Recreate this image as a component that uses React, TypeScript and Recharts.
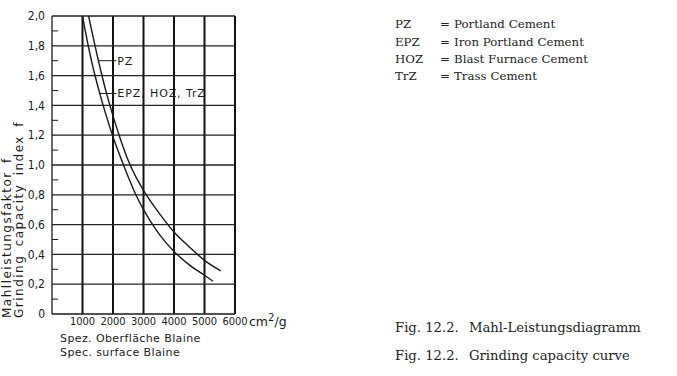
import { Line, LineChart, ReferenceLine, XAxis, YAxis } from "recharts";

// Blaine fineness (cm²/g) vs grinding capacity index f
const pzBlaine = [1200, 1500, 1750, 2000, 2250, 2500, 2750, 3000, 3500, 4000, 4500, 5000, 5530];
const pzIndex = [2.0, 1.72, 1.51, 1.33, 1.17, 1.03, 0.92, 0.83, 0.68, 0.55, 0.45, 0.36, 0.29];

const epzBlaine = [1000, 1250, 1500, 1750, 2000, 2250, 2500, 2750, 3000, 3500, 4000, 4500, 5000, 5280];
const epzIndex = [2.0, 1.74, 1.53, 1.35, 1.19, 1.05, 0.92, 0.8, 0.7, 0.54, 0.42, 0.33, 0.26, 0.22];

const xTicks = [1000, 2000, 3000, 4000, 5000, 6000];
const yTicks = [0, 0.2, 0.4, 0.6, 0.8, 1.0, 1.2, 1.4, 1.6, 1.8, 2.0];
const yMinorTicks = [0.1, 0.3, 0.5, 0.7, 0.9, 1.1, 1.3, 1.5, 1.7, 1.9];

const legendCodes = ["PZ", "EPZ", "HOZ", "TrZ"];
const legendNames = ["Portland Cement", "Iron Portland Cement", "Blast Furnace Cement", "Trass Cement"];

const captionLines = ["Mahl-Leistungsdiagramm", "Grinding capacity curve"];

const pzData = pzBlaine.map((x, i) => ({ x, f: pzIndex[i] }));
const epzData = epzBlaine.map((x, i) => ({ x, f: epzIndex[i] }));

const TECH = "'DejaVu Sans Condensed', 'DejaVu Sans', sans-serif";
const SANS = "'DejaVu Sans', sans-serif";
const SERIF = "'DejaVu Serif', serif";
const INK = "#1a1a1a";
const GRID = "#222";

const fmtY = (v: number) => (v === 0 ? "0" : v.toFixed(1).replace(".", ","));

export default function App() {
  return (
    <div style={{ position: "absolute", left: 0, top: 0, width: 677, height: 376, background: "#fff", overflow: "hidden" }}>
      <LineChart width={677} height={376} data={pzData} margin={{ top: 16, right: 442, bottom: 0, left: 0 }}>
        <XAxis
          dataKey="x"
          type="number"
          domain={[0, 6000]}
          ticks={xTicks}
          interval={0}
          height={62}
          tickLine={false}
          tickSize={0}
          tickMargin={3}
          axisLine={{ stroke: INK, strokeWidth: 1.3 }}
          tick={{ fill: INK, fontSize: 11, fontFamily: TECH }}
          allowDataOverflow
        />
        <YAxis
          type="number"
          domain={[0, 2]}
          ticks={yTicks}
          interval={0}
          width={52}
          tickLine={false}
          tickSize={0}
          tickMargin={7}
          tickFormatter={fmtY}
          axisLine={{ stroke: INK, strokeWidth: 1.3 }}
          tick={{ fill: INK, fontSize: 12, fontFamily: TECH }}
          allowDataOverflow
        />
        {xTicks.map((v) => (
          <ReferenceLine
            key={`gx${v}`}
            segment={[{ x: v, y: 0 }, { x: v, y: 2 }]}
            stroke="#111"
            strokeWidth={2}
          />
        ))}
        {yTicks.filter((v) => v > 0).map((v) => (
          <ReferenceLine key={`gy${v}`} y={v} stroke={GRID} strokeWidth={1.3} />
        ))}
        {yMinorTicks.map((v) => (
          <ReferenceLine
            key={`m${v}`}
            segment={[{ x: 0, y: v }, { x: 200, y: v }]}
            stroke={INK}
            strokeWidth={1}
          />
        ))}
        <ReferenceLine
          segment={[{ x: 1510, y: 1.7 }, { x: 2110, y: 1.7 }]}
          stroke={INK}
          strokeWidth={1}
          label={{ value: "PZ", position: "right", offset: 1, fill: INK, fontSize: 11, fontFamily: SANS, letterSpacing: 0.8 }}
        />
        <ReferenceLine
          segment={[{ x: 1570, y: 1.48 }, { x: 2110, y: 1.48 }]}
          stroke={INK}
          strokeWidth={1}
          label={{ value: "EPZ, HOZ, TrZ", position: "right", offset: 1, fill: INK, fontSize: 11, fontFamily: SANS, letterSpacing: 0.9 }}
        />
        <Line data={pzData} dataKey="f" type="monotone" stroke={INK} strokeWidth={1.4} dot={false} isAnimationActive={false} />
        <Line data={epzData} dataKey="f" type="monotone" stroke={INK} strokeWidth={1.4} dot={false} isAnimationActive={false} />
      </LineChart>

      <svg width={677} height={376} style={{ position: "absolute", left: 0, top: 0, pointerEvents: "none" }}>
        <g fill={INK} fontFamily={SANS} fontSize={12} letterSpacing={1.5} wordSpacing={3}>
          <text transform="translate(11,318) rotate(-90)">Mahlleistungsfaktor f</text>
          <text transform="translate(23,318) rotate(-90)">Grinding capacity index f</text>
        </g>
        <g fill={INK} fontFamily={SANS} fontSize={12.5}>
          <text x={249} y={326}>
            cm<tspan dy={-5} fontSize={10}>2</tspan>
            <tspan dy={5}>/g</tspan>
          </text>
        </g>
        <g fill={INK} fontFamily={SANS} fontSize={11} letterSpacing={0.4}>
          <text x={60} y={342}>Spez. Oberfläche Blaine</text>
          <text x={60} y={356}>Spec. surface Blaine</text>
        </g>
        <g fill="#222" fontFamily={SERIF} fontSize={11.8}>
          {legendCodes.map((c, i) => (
            <g key={c}>
              <text x={395} y={28.3 + i * 17.2}>{c}</text>
              <text x={440} y={28.3 + i * 17.2}>=</text>
              <text x={454} y={28.3 + i * 17.2}>{legendNames[i]}</text>
            </g>
          ))}
        </g>
        <g fill="#222" fontFamily={SERIF} fontSize={13.2}>
          {captionLines.map((t, i) => (
            <g key={t}>
              <text x={395} y={331.5 + i * 28.5}>Fig. 12.2.</text>
              <text x={469} y={331.5 + i * 28.5}>{t}</text>
            </g>
          ))}
        </g>
      </svg>
    </div>
  );
}
